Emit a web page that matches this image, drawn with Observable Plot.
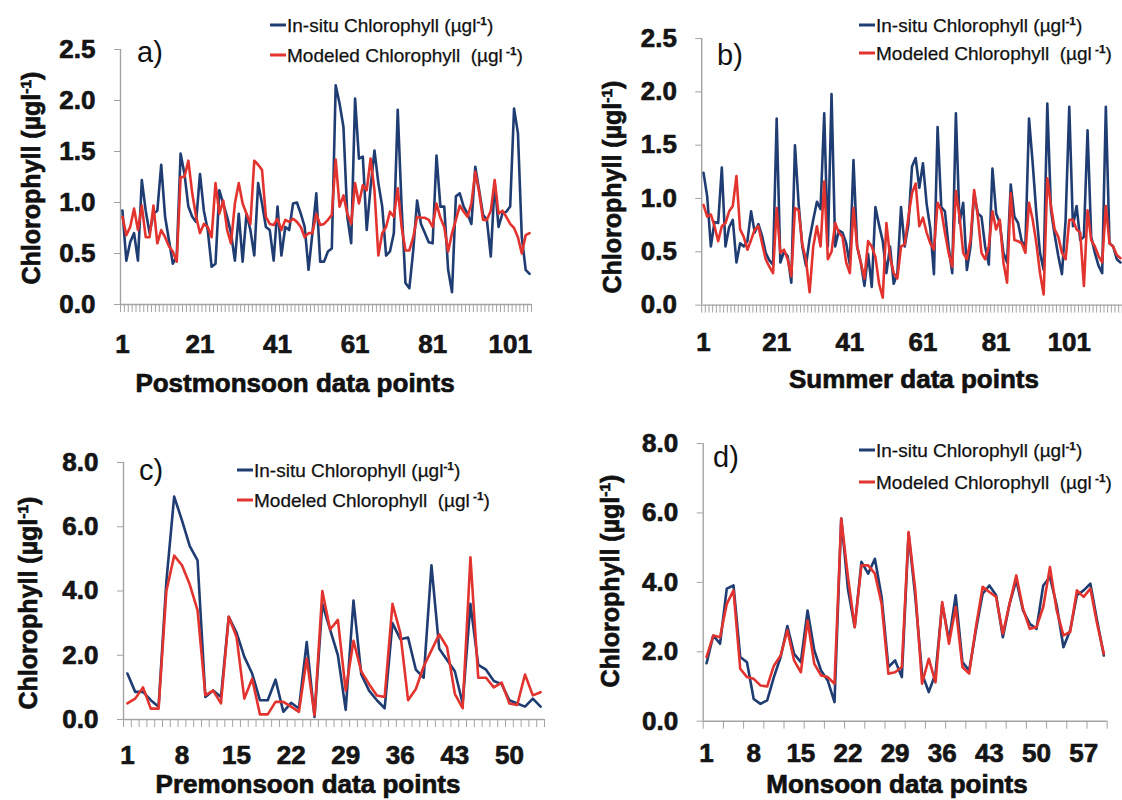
<!DOCTYPE html>
<html>
<head>
<meta charset="utf-8">
<script src="https://cdn.jsdelivr.net/npm/d3@7"></script>
<script src="https://cdn.jsdelivr.net/npm/@observablehq/plot@0.6"></script>
<style>
  body { margin: 0; background: #fff; }
  #root { position: relative; width: 1122px; height: 800px; overflow: hidden; background: #fff;
          font-family: "Liberation Sans", Arial, sans-serif; color: #111; }
  .svgbox { position: absolute; }
  .ytitle { position: absolute; transform: translate(-50%, -50%) rotate(-90deg); white-space: nowrap;
            font-weight: bold; font-size: 25px; line-height: 1; -webkit-text-stroke: 0.7px #111; }
  .xtitle { position: absolute; transform: translate(-50%, -50%); white-space: nowrap;
            font-weight: bold; font-size: 26px; line-height: 1; -webkit-text-stroke: 0.7px #111; }
  .plabel { position: absolute; transform: translate(-50%, -50%); font-size: 29px; line-height: 1; }
  .legend { position: absolute; transform: translateY(-50%); white-space: nowrap; font-size: 19px; line-height: 1;
            -webkit-text-stroke: 0.25px #111; }
  .sw { display: inline-block; width: 16px; height: 3px; vertical-align: middle; margin-right: 1px; position: relative; top: -1px; }
  sup { font-weight: bold; font-size: 0.62em; vertical-align: 0.55em; line-height: 0; }
</style>
</head>
<body>
<div id="root"></div>
<script>
// ---------------- data ----------------
const postmonsoonInsitu = [0.92,0.43,0.61,0.70,0.43,1.22,0.92,0.70,0.89,0.92,1.37,0.86,0.63,0.40,0.47,1.48,1.28,0.96,0.86,0.81,
  1.28,0.92,0.73,0.37,0.40,1.12,0.99,0.86,0.70,0.43,0.89,0.42,0.89,0.73,0.48,1.19,0.99,0.76,0.73,0.43,
  0.96,0.48,0.76,0.73,0.99,1.00,0.89,0.76,0.34,0.70,1.09,0.42,0.42,0.52,0.55,2.15,1.97,1.74,0.86,0.60,
  2.02,1.43,1.45,0.73,1.15,1.51,1.19,0.96,0.48,0.52,0.70,1.91,0.96,0.21,0.16,0.53,1.02,0.79,0.70,0.61,
  0.60,1.46,0.96,0.96,0.34,0.12,1.06,1.09,0.96,0.89,0.79,1.35,1.12,0.88,0.83,0.47,1.20,0.76,0.89,0.91,
  0.96,1.92,1.68,0.66,0.34,0.30];
const postmonsoonModeled = [0.86,0.68,0.76,0.94,0.73,0.97,0.66,0.66,0.97,0.60,0.73,0.66,0.57,0.52,0.42,1.25,1.25,1.41,1.09,0.86,
  0.70,0.79,0.76,0.66,1.19,0.89,1.02,0.73,0.60,0.99,1.19,0.99,0.89,0.79,1.41,1.37,1.32,0.86,0.79,0.78,
  0.84,0.73,0.83,0.81,0.84,0.81,0.76,0.66,0.70,0.70,0.89,0.78,0.79,0.83,0.88,1.42,0.96,1.07,0.89,0.79,
  1.19,0.99,1.17,1.12,1.43,1.12,0.48,0.70,0.76,0.91,0.86,1.14,0.76,0.53,0.53,0.66,0.86,0.85,0.85,0.83,
  0.76,0.99,0.85,0.76,0.52,0.70,0.83,0.97,0.91,0.86,0.99,1.30,1.10,0.83,0.83,0.92,1.22,0.89,0.92,0.86,
  0.79,0.75,0.66,0.50,0.68,0.70];

const summerInsitu = [1.24,1.02,0.55,0.78,0.77,1.29,0.55,0.73,0.80,0.40,0.58,0.55,0.60,0.88,0.68,0.76,0.65,0.49,0.42,0.38,
  1.75,0.40,0.50,0.46,0.21,1.50,0.95,0.55,0.37,0.62,0.80,0.97,0.90,1.80,0.55,1.98,0.55,0.70,0.68,0.58,
  0.38,1.36,0.55,0.40,0.18,0.48,0.17,0.92,0.75,0.60,0.30,0.55,0.20,0.30,0.92,0.55,0.75,1.30,1.38,1.10,
  1.33,0.95,0.72,0.29,1.67,0.92,0.88,0.55,0.30,1.80,0.77,0.96,0.33,0.55,1.05,0.86,0.83,0.55,0.38,1.28,
  0.86,0.77,0.49,0.40,1.13,0.83,0.77,0.60,0.55,1.75,1.33,0.86,0.49,0.33,1.89,0.89,0.66,0.46,0.29,0.80,
  1.86,0.74,0.93,0.61,0.64,1.64,0.64,0.49,0.37,0.30,1.86,0.58,0.55,0.43,0.40];
const summerModeled = [0.94,0.83,0.85,0.74,0.60,0.74,0.77,0.88,0.93,1.21,0.71,0.64,0.52,0.61,0.71,0.74,0.58,0.43,0.36,0.30,
  0.91,0.49,0.52,0.43,0.27,0.91,0.89,0.57,0.43,0.12,0.55,0.74,0.55,1.16,0.43,0.50,0.77,0.68,0.64,0.40,
  0.30,0.91,0.55,0.40,0.25,0.60,0.55,0.45,0.20,0.07,0.77,0.45,0.30,0.25,0.55,0.57,0.82,1.05,1.14,0.74,
  0.82,0.68,0.58,0.52,0.96,0.89,0.68,0.49,0.36,1.07,0.83,0.49,0.43,0.61,1.08,0.83,0.49,0.43,0.55,0.88,
  0.71,0.80,0.40,0.21,1.05,0.61,0.60,0.58,0.49,0.96,0.80,0.58,0.30,0.10,1.19,0.93,0.71,0.64,0.49,0.43,
  0.80,0.80,0.71,0.68,0.18,0.89,0.61,0.55,0.46,0.40,0.93,0.58,0.55,0.47,0.44];

const premonsoonInsitu = [1.43,0.86,0.86,0.60,0.40,4.30,6.94,6.20,5.40,4.95,0.70,0.90,0.70,3.20,2.70,1.95,1.43,0.60,0.60,1.24,
  0.24,0.52,0.34,2.41,0.08,3.60,2.80,2.00,0.30,3.70,1.40,0.90,0.60,0.35,3.00,2.50,2.55,1.55,1.30,4.80,
  2.20,1.85,1.50,0.50,3.60,1.70,1.55,1.20,1.10,0.60,0.50,0.40,0.65,0.40];
const premonsoonModeled = [0.50,0.65,1.00,0.34,0.34,4.00,5.10,4.80,4.20,3.40,0.76,0.90,0.50,3.20,2.57,0.65,1.27,0.16,0.16,0.55,
  0.55,0.40,0.24,1.90,0.13,4.00,2.80,3.10,0.90,2.45,1.50,1.10,0.75,0.70,3.60,2.70,0.60,0.95,1.65,2.15,
  2.65,2.25,0.80,0.35,5.05,1.30,1.30,1.00,1.15,0.50,0.45,1.40,0.75,0.85];

const monsoonInsitu = [1.67,2.47,2.23,3.82,3.91,1.85,1.70,0.64,0.50,0.60,1.27,1.85,2.74,1.94,1.70,3.19,2.04,1.46,1.17,0.55,
  5.84,3.80,2.71,4.59,4.25,4.68,3.58,1.56,1.75,1.27,5.40,3.58,1.37,0.84,1.37,3.38,2.33,3.63,1.70,1.46,
  2.62,3.67,3.91,3.63,2.42,3.38,4.06,3.19,2.81,2.66,3.91,4.15,3.34,2.13,2.62,3.63,3.77,3.96,2.90,1.89];
const monsoonModeled = [1.85,2.47,2.42,3.38,3.77,1.51,1.27,1.22,1.03,1.00,1.60,1.89,2.62,1.75,1.41,2.90,1.65,1.32,1.27,1.08,
  5.84,4.15,2.71,4.49,4.49,4.25,3.38,1.37,1.41,1.56,5.45,3.77,1.08,1.80,1.12,3.43,2.23,3.29,1.56,1.37,
  2.71,3.87,3.72,3.58,2.52,3.38,4.20,3.24,2.66,2.71,3.29,4.44,3.19,2.47,2.57,3.77,3.58,3.82,2.81,1.94];

const postmonsoonTicks = [1, 21, 41, 61, 81, 101];
const summerTicks = [1, 21, 41, 61, 81, 101];
const premonsoonTicks = [1, 8, 15, 22, 29, 36, 43, 50];
const monsoonTicks = [1, 8, 15, 22, 29, 36, 43, 50, 57];
const yTicksLow = [0, 0.5, 1.0, 1.5, 2.0, 2.5];
const yTicksHigh = [0, 2, 4, 6, 8];

const insituLabel = "In-situ Chlorophyll (µgl<sup>-1</sup>)";
const modeledLabel = "Modeled Chlorophyll&nbsp; (µgl<sup> -1</sup>)";
const yTitle = "Chlorophyll (µgl<sup>-1</sup>)";

// ---------------- drawing ----------------
const BLUE = "#1f3d72", RED = "#e2332e", GREY = "#a3a3a3", INK = "#151515";
const FONT = "'Liberation Sans', Arial, sans-serif";
const root = document.getElementById("root");

function addDiv(cls, html, x, y) {
  const d = document.createElement("div");
  d.className = cls;
  d.innerHTML = html;
  d.style.left = x + "px";
  d.style.top = y + "px";
  root.appendChild(d);
  return d;
}

function panel(o) {
  const n = o.insitu.length;
  const bounds = [];
  for (let b = 0.5; b <= n + 0.5 + 1e-9; b += o.tickStep) bounds.push(b);
  const chart = Plot.plot({
    width: o.w, height: o.h,
    marginLeft: o.ml, marginRight: o.mr, marginTop: o.mt, marginBottom: o.mb,
    x: {type: "linear", domain: [0.5, n + 0.5]},
    y: {domain: [0, o.yMax]},
    style: {background: "transparent", overflow: "visible", fontFamily: FONT},
    marks: [
      Plot.ruleX([0.5], {stroke: GREY, strokeWidth: 1.4}),
      Plot.ruleY([0], {stroke: GREY, strokeWidth: 1.4}),
      Plot.axisY({ticks: o.yTicks, tickFormat: d => d.toFixed(1), tickSize: 6, tickPadding: 19,
        stroke: GREY, fill: INK, fontSize: 26, fontWeight: "bold", label: null,
        textStroke: INK, textStrokeWidth: 0.7}),
      Plot.axisX({ticks: bounds, tickSize: 8, tickFormat: () => "", stroke: GREY, label: null}),
      Plot.axisX({ticks: o.labelTicks, tickSize: 0, tickPadding: o.xPad, fill: INK,
        fontSize: 26, fontWeight: "bold", label: null, textStroke: INK, textStrokeWidth: 0.7}),
      Plot.lineY(o.insitu, {x: (d, i) => i + 1, y: d => d, stroke: BLUE, strokeWidth: 2.6, strokeLinejoin: "round"}),
      Plot.lineY(o.modeled, {x: (d, i) => i + 1, y: d => d, stroke: RED, strokeWidth: 2.6, strokeLinejoin: "round"})
    ]
  });
  const box = document.createElement("div");
  box.className = "svgbox";
  box.style.left = o.left + "px";
  box.style.top = o.top + "px";
  box.appendChild(chart);
  root.appendChild(box);

  addDiv("ytitle", yTitle, o.yt[0], o.yt[1]);
  addDiv("xtitle", o.xTitle, o.xt[0], o.xt[1]);
  addDiv("plabel", o.tag, o.tagPos[0], o.tagPos[1]);
  addDiv("legend", `<span class="sw" style="background:${BLUE}"></span>${insituLabel}`, o.lg[0], o.lg[1]);
  addDiv("legend", `<span class="sw" style="background:${RED}"></span>${modeledLabel}`, o.lg[0], o.lg[2]);
}

panel({left: 0, top: 0, w: 561, h: 400, ml: 120, mr: 30, mt: 49, mb: 96,
  insitu: postmonsoonInsitu, modeled: postmonsoonModeled, yMax: 2.5, yTicks: yTicksLow,
  tickStep: 1, labelTicks: postmonsoonTicks, xPad: 30,
  xTitle: "Postmonsoon data points", xt: [295, 383], yt: [31, 178],
  tag: "a)", tagPos: [150, 52], lg: [270, 25, 55]});

panel({left: 561, top: 0, w: 563, h: 400, ml: 140.7, mr: 0.2, mt: 38.2, mb: 94.3,
  insitu: summerInsitu, modeled: summerModeled, yMax: 2.5, yTicks: yTicksLow,
  tickStep: 1, labelTicks: summerTicks, xPad: 28,
  xTitle: "Summer data points", xt: [914, 379], yt: [612, 187],
  tag: "b)", tagPos: [730, 55], lg: [859, 25, 53]});

panel({left: 0, top: 400, w: 561, h: 400, ml: 123, mr: 17, mt: 62, mb: 81,
  insitu: premonsoonInsitu, modeled: premonsoonModeled, yMax: 8, yTicks: yTicksHigh,
  tickStep: 1, labelTicks: premonsoonTicks, xPad: 26,
  xTitle: "Premonsoon data points", xt: [308, 784], yt: [28, 603],
  tag: "c)", tagPos: [151, 470], lg: [237, 470, 500]});

panel({left: 561, top: 400, w: 561, h: 400, ml: 141.7, mr: 15.3, mt: 43, mb: 79.3,
  insitu: monsoonInsitu, modeled: monsoonModeled, yMax: 8, yTicks: yTicksHigh,
  tickStep: 3, labelTicks: monsoonTicks, xPad: 22,
  xTitle: "Monsoon data points", xt: [897, 784], yt: [610, 581],
  tag: "d)", tagPos: [726, 457], lg: [859, 450, 482]});
</script>
</body>
</html>
